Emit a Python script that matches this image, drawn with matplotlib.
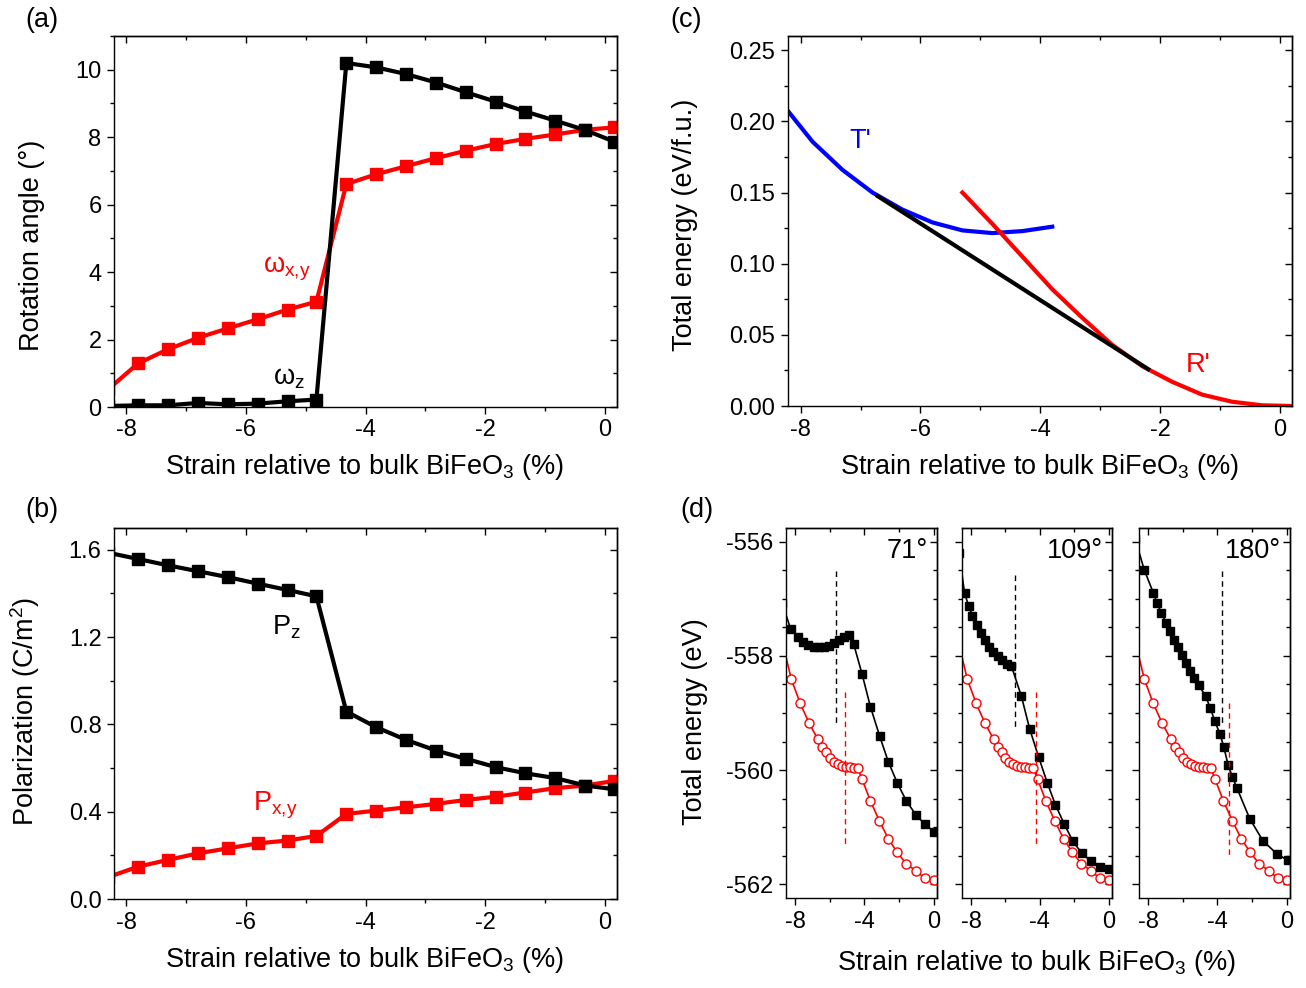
import matplotlib
matplotlib.use('Agg')
import matplotlib.pyplot as plt
from matplotlib.ticker import MultipleLocator, FormatStrFormatter

plt.rcParams['font.family'] = ['Liberation Sans', 'DejaVu Sans']
plt.rcParams['mathtext.fontset'] = 'custom'
plt.rcParams['mathtext.rm'] = 'Liberation Sans'
plt.rcParams['mathtext.it'] = 'Liberation Sans:italic'
plt.rcParams['axes.linewidth'] = 1.0
plt.rcParams['axes.unicode_minus'] = False

# (a) rotation angles and (b) polarization vs strain
strain_ab = [-8.3, -7.8, -7.3, -6.8, -6.3, -5.8, -5.3, -4.82, -4.32, -3.82, -3.32,
             -2.82, -2.32, -1.82, -1.33, -0.83, -0.33, 0.15]
omega_z = [0.03, 0.05, 0.05, 0.12, 0.08, 0.10, 0.17, 0.22, 10.2, 10.07, 9.87,
           9.62, 9.33, 9.05, 8.76, 8.49, 8.21, 7.87]
omega_xy = [0.52, 1.29, 1.71, 2.05, 2.33, 2.60, 2.89, 3.12, 6.61, 6.90, 7.14,
            7.38, 7.60, 7.80, 7.95, 8.08, 8.22, 8.29]
pol_z = [1.587, 1.558, 1.529, 1.502, 1.475, 1.445, 1.416, 1.387, 0.859, 0.787, 0.729,
         0.680, 0.642, 0.604, 0.576, 0.554, 0.520, 0.503]
pol_xy = [0.100, 0.148, 0.179, 0.209, 0.232, 0.255, 0.268, 0.289, 0.390, 0.405, 0.420,
          0.436, 0.454, 0.469, 0.488, 0.508, 0.520, 0.541]

# (c) total energy per f.u.
t_strain = [-8.3, -7.8, -7.3, -6.8, -6.3, -5.8, -5.3, -4.8, -4.3, -3.8]
t_energy = [0.212, 0.1857, 0.1659, 0.150, 0.138, 0.129, 0.1234, 0.1215, 0.1229, 0.126]
r_strain = [-5.3, -4.8, -4.3, -3.8, -3.3, -2.8, -2.3, -1.8, -1.3, -0.8, -0.3, 0.2, 0.3]
r_energy = [0.150, 0.128, 0.105, 0.082, 0.062, 0.043, 0.028, 0.017, 0.008, 0.003,
            0.0005, 0.0, 0.0]
tangent_strain = [-6.71, -2.2]
tangent_energy = [0.1474, 0.0259]

# (d) total energy of domain structures
mono_strain = [-8.8, -8.22, -7.71, -7.19, -6.69, -6.46, -6.23, -6.0, -5.77, -5.54, -5.31,
               -5.08, -4.85, -4.62, -4.39, -4.13, -3.65, -3.13, -2.62, -2.1, -1.58,
               -1.04, -0.52, 0.0]
mono_energy = [-557.68, -558.41, -558.83, -559.18, -559.46, -559.59, -559.69, -559.78,
               -559.85, -559.90, -559.93, -559.95, -559.95, -559.96, -559.96, -560.16,
               -560.54, -560.89, -561.20, -561.44, -561.64, -561.76, -561.89, -561.92]
dw71_strain = [-8.76, -8.26, -7.81, -7.52, -7.23, -6.94, -6.65, -6.36, -6.07, -5.78,
               -5.49, -5.20, -4.90, -4.62, -4.13, -3.65, -3.12, -2.62, -2.09, -1.57,
               -1.03, -0.50, 0.04]
dw71_energy = [-557.07, -557.53, -557.67, -557.75, -557.81, -557.84, -557.85, -557.85,
               -557.82, -557.78, -557.73, -557.67, -557.63, -557.79, -558.32, -558.89,
               -559.40, -559.85, -560.23, -560.54, -560.78, -560.95, -561.08]
dw109_strain = [-8.7, -8.38, -8.15, -7.92, -7.67, -7.42, -7.19, -6.96, -6.71, -6.46,
                -6.19, -5.94, -5.65, -5.07, -4.59, -4.07, -3.57, -3.09, -2.57, -2.09,
                -1.55, -1.03, -0.51, 0.0]
dw109_energy = [-556.2, -556.90, -557.12, -557.30, -557.46, -557.60, -557.73, -557.84,
                -557.94, -558.01, -558.08, -558.14, -558.18, -558.71, -559.28, -559.77,
                -560.22, -560.61, -560.95, -561.24, -561.46, -561.59, -561.70, -561.73]
dw180_strain = [-8.75, -8.23, -7.71, -7.48, -7.23, -6.98, -6.73, -6.50, -6.27, -6.04,
                -5.79, -5.56, -5.33, -5.08, -4.67, -4.40, -4.15, -3.86, -3.63, -3.38,
                -3.13, -2.86, -2.13, -1.36, -0.55, 0.08]
dw180_energy = [-555.95, -556.49, -556.89, -557.08, -557.25, -557.42, -557.57, -557.72,
                -557.85, -557.98, -558.12, -558.26, -558.39, -558.51, -558.71, -558.92,
                -559.14, -559.36, -559.59, -559.91, -560.12, -560.32, -560.85, -561.24,
                -561.47, -561.58]
dw_labels = ['71°', '109°', '180°']
dw_black_dash = [-5.64, -5.45, -3.72]
dw_red_dash = [-5.10, -4.20, -3.32]
black_dash_range = [(-556.51, -559.18), (-556.58, -559.24), (-556.51, -559.18)]
red_dash_range = [(-558.63, -561.29), (-558.63, -561.29), (-558.82, -561.48)]

TICK = 17
LAB = 19.5
W, H = 1306, 988


def rect(l, t, r, b):
    return [l / W, 1 - b / H, (r - l) / W, (b - t) / H]


def style(ax, xmaj, xmin, ymaj, ymin, ylab=True):
    ax.xaxis.set_major_locator(MultipleLocator(xmaj))
    ax.xaxis.set_minor_locator(MultipleLocator(xmin))
    ax.yaxis.set_major_locator(MultipleLocator(ymaj))
    ax.yaxis.set_minor_locator(MultipleLocator(ymin))
    ax.tick_params(which='major', direction='out', length=5, width=1,
                   labelsize=TICK, pad=4)
    ax.tick_params(which='minor', direction='out', length=3, width=1)
    if not ylab:
        ax.tick_params(labelleft=False)
    top = ax.secondary_xaxis('top')
    top.xaxis.set_major_locator(MultipleLocator(xmaj))
    top.xaxis.set_minor_locator(MultipleLocator(xmin))
    top.tick_params(which='major', direction='in', length=5, width=1, labeltop=False)
    top.tick_params(which='minor', direction='in', length=3, width=1)
    right = ax.secondary_yaxis('right')
    right.yaxis.set_major_locator(MultipleLocator(ymaj))
    right.yaxis.set_minor_locator(MultipleLocator(ymin))
    right.tick_params(which='major', direction='in', length=5, width=1, labelright=False)
    right.tick_params(which='minor', direction='in', length=3, width=1)


fig = plt.figure(figsize=(W / 100, H / 100), dpi=100)
xlabel = r'Strain relative to bulk BiFeO$_3$ (%)'

# (a)
ax = fig.add_axes(rect(114, 36, 617, 407))
ax.plot(strain_ab, omega_xy, color='red', lw=3, marker='s', ms=9)
ax.plot(strain_ab, omega_z, color='black', lw=3, marker='s', ms=9)
ax.set_xlim(-8.2, 0.2)
ax.set_ylim(0, 11)
style(ax, 2, 1, 2, 1)
ax.text(-5.32, 4.11, r'ω$_{\mathrm{x{,}y}}$', color='red', fontsize=LAB, ha='center', va='center')
ax.text(-5.27, 0.86, r'ω$_{\mathrm{z}}$', color='black', fontsize=LAB, ha='center', va='center')
fig.text(32 / W, 1 - 245 / H, 'Rotation angle (°)', rotation=90, fontsize=LAB,
         ha='center', va='center')
fig.text(365 / W, 1 - 467 / H, xlabel, fontsize=LAB, ha='center', va='center')
fig.text(25 / W, 1 - 20 / H, '(a)', fontsize=LAB, ha='left', va='center')

# (b)
ax = fig.add_axes(rect(114, 528, 617, 899))
ax.plot(strain_ab, pol_xy, color='red', lw=3, marker='s', ms=9)
ax.plot(strain_ab, pol_z, color='black', lw=3, marker='s', ms=9)
ax.set_xlim(-8.2, 0.2)
ax.set_ylim(0, 1.7)
style(ax, 2, 1, 0.4, 0.2)
ax.yaxis.set_major_formatter(FormatStrFormatter('%.1f'))
ax.text(-5.32, 1.243, r'P$_{\mathrm{z}}$', color='black', fontsize=LAB, ha='center', va='center')
ax.text(-5.5, 0.427, r'P$_{\mathrm{x{,}y}}$', color='red', fontsize=LAB, ha='center', va='center')
fig.text(25 / W, 1 - 712 / H, r'Polarization (C/m$^2$)', rotation=90, fontsize=LAB,
         ha='center', va='center')
fig.text(365 / W, 1 - 960 / H, xlabel, fontsize=LAB, ha='center', va='center')
fig.text(25 / W, 1 - 510 / H, '(b)', fontsize=LAB, ha='left', va='center')

# (c)
ax = fig.add_axes(rect(788, 36, 1292, 406))
ax.plot(t_strain, t_energy, color='blue', lw=3)
ax.plot(r_strain, r_energy, color='red', lw=3)
ax.plot(tangent_strain, tangent_energy, color='black', lw=3)
ax.set_xlim(-8.21, 0.2)
ax.set_ylim(0, 0.26)
style(ax, 2, 1, 0.05, 0.025)
ax.yaxis.set_major_formatter(FormatStrFormatter('%.2f'))
ax.text(-7.01, 0.186, "T'", color='blue', fontsize=LAB, ha='center', va='center')
ax.text(-1.37, 0.0288, "R'", color='red', fontsize=LAB, ha='center', va='center')
fig.text(685 / W, 1 - 225 / H, 'Total energy (eV/f.u.)', rotation=90, fontsize=LAB,
         ha='center', va='center')
fig.text(1040 / W, 1 - 467 / H, xlabel, fontsize=LAB, ha='center', va='center')
fig.text(670 / W, 1 - 20 / H, '(c)', fontsize=LAB, ha='left', va='center')

# (d)
d_rects = [(786, 937), (962, 1112), (1139, 1290)]
dw_data = [(dw71_strain, dw71_energy), (dw109_strain, dw109_energy),
           (dw180_strain, dw180_energy)]
for i, ((l, r), (sx, sy)) in enumerate(zip(d_rects, dw_data)):
    ax = fig.add_axes(rect(l, 528, r, 898))
    ax.plot(mono_strain, mono_energy, color='red', lw=1.2, marker='o', ms=6.5,
            mfc='white', mec='red', mew=1)
    ax.plot(sx, sy, color='black', lw=1.2, marker='s', ms=6)
    ax.plot([dw_black_dash[i]] * 2, black_dash_range[i], color='black', lw=1,
            ls=(0, (4, 3)))
    ax.plot([dw_red_dash[i]] * 2, red_dash_range[i], color='red', lw=1,
            ls=(0, (4, 3)))
    ax.set_xlim(-8.53, 0.2)
    ax.set_ylim(-562.24, -555.76)
    style(ax, 4, 2, 2, 0.5, ylab=(i == 0))
    ax.text(0.94, 0.938, dw_labels[i], transform=ax.transAxes, fontsize=LAB,
            ha='right', va='center')
fig.text(695 / W, 1 - 722 / H, 'Total energy (eV)', rotation=90, fontsize=LAB,
         ha='center', va='center')
fig.text(1037 / W, 1 - 963 / H, xlabel, fontsize=LAB, ha='center', va='center')
fig.text(680 / W, 1 - 510 / H, '(d)', fontsize=LAB, ha='left', va='center')

fig.savefig('out.png', dpi=100)
